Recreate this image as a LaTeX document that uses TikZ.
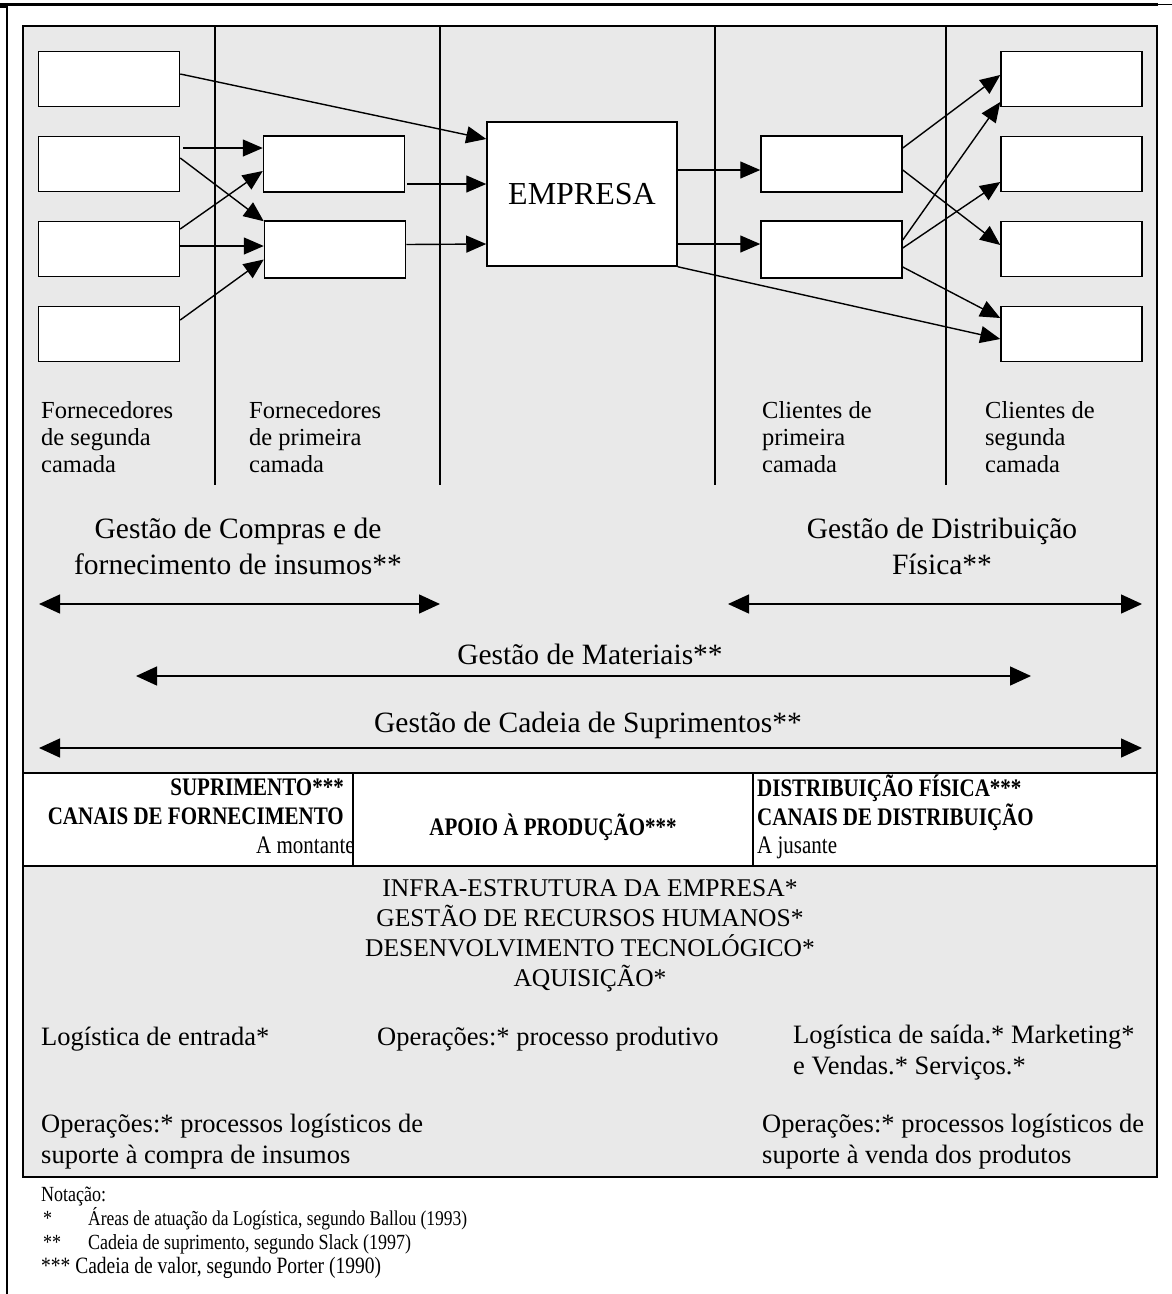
\documentclass[tikz,border=0pt]{standalone}
\usepackage{fontspec}
\setmainfont{Liberation Serif}
\usetikzlibrary{arrows.meta}
\definecolor{panelgray}{RGB}{233,233,233}

% tall (vertically stretched) text used in the band and the notes
\newcommand{\tallt}[1]{\scalebox{1}[1.2]{#1}}

\tikzset{
  frame/.style={draw=black, line width=1.5pt},
  cellbox/.style={draw=black, line width=1.5pt, fill=white, inner sep=0pt},
  actor/.style={cellbox, minimum width=141pt, minimum height=55pt},
  flow/.style={-{Triangle[length=20pt,width=17pt]}, line width=1.4pt},
  span/.style={{Triangle[length=21pt,width=19pt]}-{Triangle[length=21pt,width=19pt]}, line width=1.4pt},
  divider/.style={line width=1.5pt},
  tierlabel/.style={anchor=north west, inner sep=0pt, align=left, font=\fontsize{24.5}{27}\selectfont},
  biglabel/.style={inner sep=0pt, align=center, font=\fontsize{29.5}{36}\selectfont},
  bandtext/.style={inner sep=0pt, font=\fontsize{21}{28}\selectfont\bfseries},
  bandplain/.style={inner sep=0pt, font=\fontsize{21}{28}\selectfont},
  supporttext/.style={inner sep=0pt, font=\fontsize{25.5}{30}\selectfont},
  bodytext/.style={inner sep=0pt, font=\fontsize{26.5}{31}\selectfont},
  notetext/.style={inner sep=0pt, anchor=base west, font=\fontsize{18}{24}\selectfont}
}

\begin{document}
\begin{tikzpicture}[x=1pt, y=-1pt]
\useasboundingbox (0,0) rectangle (1172,1294);

% page rules
\fill[black] (0,2.7) rectangle (1158,5.7);
\draw[line width=1pt] (1158,4.5) -- (1172,4.5);
\fill[black] (0,5) rectangle (8,8.3);
\draw[line width=2pt] (7,5) -- (7,1294);

% shaded panel
\draw[frame, fill=panelgray] (23,26) rectangle (1157,1177);

% column separators
\foreach \cx in {215,440,715,946}
  \draw[divider] (\cx,26) -- (\cx,485);

% second-tier suppliers
\node[actor] (L1) at (109,79) {};
\node[actor] (L2) at (109,164) {};
\node[actor] (L3) at (109,249) {};
\node[actor] (L4) at (109,334) {};
% first-tier suppliers
\node[actor, minimum height=56pt] (A) at (334,164) {};
\node[actor, minimum height=57pt] (B) at (335,249.5) {};
% focal company
\node[cellbox, minimum width=190pt, minimum height=144pt, font=\fontsize{32}{36}\selectfont] (E) at (582,194) {EMPRESA};
% first-tier customers
\node[actor, minimum height=56pt] (C) at (831.5,164) {};
\node[actor, minimum height=57pt] (D) at (831.5,249.5) {};
% second-tier customers
\node[actor] (R1) at (1071.5,79) {};
\node[actor] (R2) at (1071.5,164) {};
\node[actor] (R3) at (1071.5,249) {};
\node[actor] (R4) at (1071.5,334) {};

% upstream flows
\draw[flow] ([yshift=5pt]L1.east) -- ([yshift=55pt]E.west);
\draw[flow] ([xshift=3pt,yshift=16pt]L2.east) -- ([yshift=16pt]A.west);
\draw[flow] ([yshift=6pt]L2.east) -- ([yshift=-1pt]B.north west);
\draw[flow] ([yshift=20pt]L3.east) -- ([yshift=-7pt]A.west);
\draw[flow] ([yshift=3pt]L3.east) -- ([yshift=3.5pt]B.west);
\draw[flow] ([yshift=14pt]L4.east) -- ([yshift=-10pt]B.west);
\draw[flow] ([xshift=2pt,yshift=-20pt]A.east) -- ([yshift=10pt]E.west);
\draw[flow] ([yshift=5pt]B.east) -- ([yshift=-50pt]E.west);

% downstream flows
\draw[flow] ([yshift=24pt]E.east) -- ([yshift=-6pt]C.west);
\draw[flow] ([yshift=-50pt]E.east) -- ([yshift=5.5pt]D.west);
\draw[flow] (E.south east) -- ([yshift=-5pt]R4.west);
\draw[flow] ([yshift=16pt]C.east) -- ([yshift=4pt]R1.west);
\draw[flow] ([yshift=-6pt]C.east) -- ([yshift=4pt]R3.west);
\draw[flow] ([yshift=9.5pt]D.east) -- ([yshift=-23pt]R1.west);
\draw[flow] ([yshift=1.5pt]D.east) -- ([yshift=-18pt]R2.west);
\draw[flow] ([yshift=-17.5pt]D.east) -- ([yshift=16pt]R4.west);

% tier captions
\node[tierlabel] (t1) at (41,401) {Fornecedores\\de segunda\\camada};
\node[tierlabel] (t2) at (249,401) {Fornecedores\\de primeira\\camada};
\node[tierlabel] (t3) at (762,401) {Clientes de\\primeira\\camada};
\node[tierlabel] (t4) at (985,401) {Clientes de\\segunda\\camada};

% management scopes
\node[biglabel, anchor=north] (g1) at (238,518) {Gestão de Compras e de\\fornecimento de insumos**};
\node[biglabel, anchor=north] (g2) at (942,518) {Gestão de Distribuição\\Física**};
\coordinate (g1a) at (39,604);  \coordinate (g1b) at (440,604);
\draw[span] (g1a) -- (g1b);
\coordinate (g2a) at (728,604); \coordinate (g2b) at (1142,604);
\draw[span] (g2a) -- (g2b);
\node[biglabel, anchor=base] (g3) at (590,664) {Gestão de Materiais**};
\coordinate (g3a) at (136,676); \coordinate (g3b) at (1031,676);
\draw[span] (g3a) -- (g3b);
\node[biglabel, anchor=base] (g4) at (588,732) {Gestão de Cadeia de Suprimentos**};
\coordinate (g4a) at (39,748); \coordinate (g4b) at (1142,748);
\draw[span] (g4a) -- (g4b);

% value-chain band
\draw[frame, fill=white] (23,773) rectangle (1157,866);
\draw[divider] (353,773) -- (353,866);
\draw[divider] (753,773) -- (753,866);
\node[bandtext, anchor=base east] (s1) at (344,795) {\tallt{SUPRIMENTO***}};
\node[bandtext, anchor=base east] (s2) at (344,824) {\tallt{CANAIS DE FORNECIMENTO}};
\begin{scope}
  \clip (23,773) rectangle (352.3,866);
  \node[bandplain, anchor=base east] (s3) at (355,853) {\tallt{A montante}};
\end{scope}
\node[bandtext, anchor=base] (s4) at (553,835) {\tallt{APOIO À PRODUÇÃO***}};
\node[bandtext, anchor=base west] (s5) at (757,796) {\tallt{DISTRIBUIÇÃO FÍSICA***}};
\node[bandtext, anchor=base west] (s6) at (757,825) {\tallt{CANAIS DE DISTRIBUIÇÃO}};
\node[bandplain, anchor=base west] (s7) at (757,853) {\tallt{A jusante}};

% support activities
\node[supporttext, align=center, anchor=north] (p1) at (590,879) {INFRA-ESTRUTURA DA EMPRESA*\\GESTÃO DE RECURSOS HUMANOS*\\DESENVOLVIMENTO TECNOLÓGICO*\\AQUISIÇÃO*};
\node[bodytext, anchor=base west] (p2) at (41,1045) {Logística de entrada*};
\node[bodytext, anchor=base west] (p3) at (377,1045) {Operações:* processo produtivo};
\node[bodytext, align=left, anchor=north west] (p4) at (793,1025) {Logística de saída.* Marketing*\\ e Vendas.* Serviços.*};
\node[bodytext, align=left, anchor=north west] (p5) at (41,1114) {Operações:* processos logísticos de\\suporte à compra de insumos};
\node[bodytext, align=left, anchor=north west] (p6) at (762,1114) {Operações:* processos logísticos de\\suporte à venda dos produtos};

% notation
\node[notetext] (n0) at (41,1201) {\tallt{Notação:}};
\node[notetext] (n1a) at (43,1225) {\tallt{*}};
\node[notetext, font=\fontsize{17.5}{24}\selectfont] (n1b) at (88,1225) {\tallt{Áreas de atuação da Logística, segundo Ballou (1993)}};
\node[notetext] (n2a) at (43,1249) {\tallt{**}};
\node[notetext] (n2b) at (88,1249) {\tallt{Cadeia de suprimento, segundo Slack (1997)}};
\node[notetext, font=\fontsize{19.5}{24}\selectfont] (n3) at (41,1273) {\tallt{*** Cadeia de valor, segundo Porter (1990)}};
\end{tikzpicture}
\end{document}
